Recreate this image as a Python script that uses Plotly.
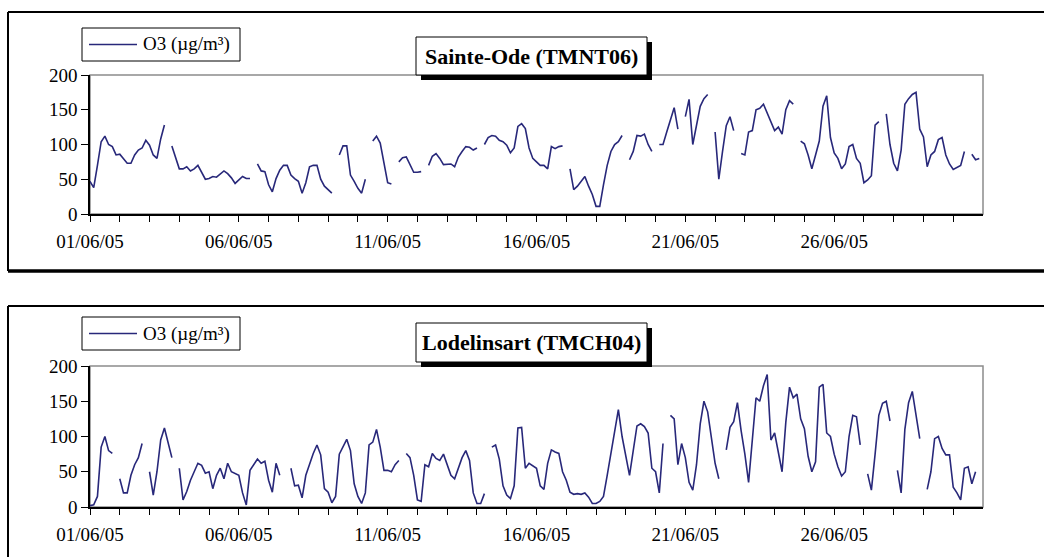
import plotly.graph_objects as go
import pandas as pd

# ---------------- data (3-hourly readings, June 2005) ----------------
start_date = "2005-06-01"
step = "3h"
tick_dates = ["2005-06-01", "2005-06-06", "2005-06-11", "2005-06-16", "2005-06-21", "2005-06-26"]
tick_labels = ["01/06/05", "06/06/05", "11/06/05", "16/06/05", "21/06/05", "26/06/05"]
y_ticks = [0, 50, 100, 150, 200]
series_name = "O3 (µg/m³)"
titles = ["Sainte-Ode (TMNT06)", "Lodelinsart (TMCH04)"]
N = None

sainte_ode = [
    47, 38, 70, 104, 112, 100, 97, 85,      # 01/06
    86, 80, 73, 73, 85, 92, 95, 106,        # 02/06
    99, 85, 80, 108, 128, N, 98, 80,        # 03/06
    65, 65, 68, 62, 65, 70, 60, 50,         # 04/06
    51, 54, 53, 58, 62, 58, 52, 44,         # 05/06
    49, 54, 51, 51, N, 72, 62, 61,          # 06/06
    42, 32, 51, 63, 70, 70, 56, 51,         # 07/06
    47, 30, 45, 68, 70, 70, 50, 40,         # 08/06
    35, 30, N, 85, 98, 98, 56, 47,          # 09/06
    37, 30, 50, N, 105, 112, 102, 75,       # 10/06
    45, 43, N, 75, 81, 82, 71, 60,          # 11/06
    60, 61, N, 70, 83, 87, 80, 71,          # 12/06
    72, 72, 68, 82, 90, 97, 96, 92,         # 13/06
    95, N, 100, 110, 113, 112, 106, 104,    # 14/06
    99, 88, 95, 126, 130, 123, 95, 80,      # 15/06
    75, 70, 70, 65, 97, 94, 97, 98,         # 16/06
    N, 65, 35, 40, 47, 54, 40, 28,          # 17/06
    11, 11, 42, 70, 90, 100, 104, 113,      # 18/06
    N, 78, 90, 113, 112, 115, 100, 90,      # 19/06
    N, 100, 100, 118, 137, 153, 122, N,     # 20/06
    140, 165, 100, 130, 155, 166, 172, N,   # 21/06
    118, 50, 90, 127, 140, 120, N, 87,      # 22/06
    85, 118, 120, 150, 152, 158, 146, 133,  # 23/06
    120, 125, 115, 150, 163, 158, N, 105,   # 24/06
    101, 85, 65, 85, 105, 155, 170, 110,    # 25/06
    88, 80, 65, 72, 97, 100, 80, 73,        # 26/06
    45, 49, 55, 128, 133, N, 144, 100,      # 27/06
    73, 62, 92, 158, 166, 172, 175, 122,    # 28/06
    111, 68, 85, 90, 107, 110, 85, 72,      # 29/06
    64, 67, 70, 90, N, 86, 78, 80,          # 30/06
]

lodelinsart = [
    2, 3, 15, 85, 100, 80, 76, N,           # 01/06
    40, 20, 20, 45, 60, 70, 90, N,          # 02/06
    50, 17, 50, 95, 112, 92, 70, N,         # 03/06
    55, 10, 22, 38, 50, 62, 59, 48,         # 04/06
    50, 26, 45, 55, 40, 62, 50, 48,         # 05/06
    45, 20, 3, 52, 60, 68, 62, 65,          # 06/06
    38, 21, 62, 45, N, N, 55, 30,           # 07/06
    31, 13, 45, 62, 76, 88, 74, 26,         # 08/06
    21, 6, 15, 75, 86, 96, 80, 33,          # 09/06
    15, 5, 20, 88, 92, 110, 85, 52,         # 10/06
    52, 50, 60, 66, N, 76, 70, 45,          # 11/06
    10, 8, 60, 57, 76, 69, 66, 75,          # 12/06
    60, 45, 40, 55, 70, 80, 66, 20,         # 13/06
    5, 5, 19, N, 85, 88, 68, 30,            # 14/06
    17, 12, 30, 112, 113, 55, 62, 58,       # 15/06
    55, 30, 25, 62, 81, 78, 76, 50,         # 16/06
    38, 21, 18, 19, 18, 20, 14, 5,          # 17/06
    5, 8, 15, 45, 75, 111, 138, 100,        # 18/06
    70, 45, 80, 115, 118, 114, 105, 55,     # 19/06
    50, 20, 90, N, 130, 125, 60, 90,        # 20/06
    70, 35, 24, 60, 118, 150, 135, 100,     # 21/06
    62, 40, N, 81, 113, 121, 148, 108,      # 22/06
    75, 35, 90, 155, 150, 172, 188, 95,     # 23/06
    105, 80, 50, 120, 170, 155, 160, 125,   # 24/06
    111, 72, 50, 64, 170, 174, 105, 100,    # 25/06
    75, 57, 44, 50, 100, 130, 128, 88,      # 26/06
    N, 47, 24, 75, 130, 147, 150, 122,      # 27/06
    N, 52, 20, 110, 148, 164, 130, 97,      # 28/06
    N, 25, 50, 97, 100, 83, 74, 74,         # 29/06
    28, 20, 10, 55, 57, 33, 50, N,          # 30/06
]

# ---------------- layout helpers ----------------
W, H = 1044, 557
LINE_COLOR = "#28287a"
FONT = "Liberation Serif"


def fx(px):
    return px / W


def fy(py):
    return 1 - py / H


times = pd.date_range(start_date, periods=len(sainte_ode), freq=step)
day_ticks = list(pd.date_range(start_date, periods=30, freq="D"))

fig = go.Figure()

panels = [
    dict(data=sainte_ode, area=(90, 75, 983, 214), frame_top=12, frame_bot=271,
         leg=(82, 28, 240, 61), tit=(416, 37, 647, 75)),
    dict(data=lodelinsart, area=(90, 366, 983, 507), frame_top=306, frame_bot=600,
         leg=(82, 317, 240, 350), tit=(416, 323, 647, 362)),
]

shapes = []
annotations = []

for i, p in enumerate(panels):
    ax = "" if i == 0 else str(i + 1)
    l, t, r, b = p["area"]
    fig.add_trace(go.Scatter(
        x=times, y=p["data"], mode="lines", name=series_name,
        line=dict(color=LINE_COLOR, width=1.6), connectgaps=False,
        xaxis="x" + ax, yaxis="y" + ax, showlegend=False,
    ))
    fig.layout["xaxis" + ax] = dict(
        domain=[fx(l), fx(r)], anchor="y" + ax, type="date", automargin=False,
        range=["2005-06-01", "2005-07-01"],
        tickmode="array", tickvals=tick_dates, ticktext=tick_labels,
        ticks="outside", ticklen=6, tickwidth=1, tickcolor="black",
        minor=dict(tickmode="array", tickvals=day_ticks, ticks="outside",
                   ticklen=6, tickwidth=1, tickcolor="black"),
        showline=True, linecolor="black", linewidth=1.5,
        showgrid=False, zeroline=False, ticklabelstandoff=3,
        tickfont=dict(family=FONT, size=19, color="black"),
        fixedrange=True,
    )
    fig.layout["yaxis" + ax] = dict(
        domain=[fy(b), fy(t)], anchor="x" + ax, range=[0, 200], automargin=False,
        tickmode="array", tickvals=y_ticks,
        ticks="outside", ticklen=7, tickwidth=1, tickcolor="black",
        showline=True, linecolor="black", linewidth=1.5,
        showgrid=False, zeroline=False,
        tickfont=dict(family=FONT, size=19, color="black"),
        fixedrange=True,
    )
    # grey plot-area border (top & right)
    shapes.append(dict(type="rect", xref="paper", yref="paper",
                       x0=fx(l), x1=fx(r), y0=fy(b), y1=fy(t),
                       line=dict(color="#8c8c8c", width=1.5), layer="below"))
    # outer frame (thin left/top, thick bottom shadow)
    ft, fb = p["frame_top"], p["frame_bot"]
    shapes.append(dict(type="line", xref="paper", yref="paper",
                       x0=fx(8), x1=fx(8), y0=fy(fb), y1=fy(ft),
                       line=dict(color="black", width=2)))
    shapes.append(dict(type="line", xref="paper", yref="paper",
                       x0=fx(8), x1=fx(1044), y0=fy(ft), y1=fy(ft),
                       line=dict(color="black", width=2)))
    shapes.append(dict(type="line", xref="paper", yref="paper",
                       x0=fx(8), x1=fx(1044), y0=fy(fb), y1=fy(fb),
                       line=dict(color="black", width=3.5)))
    # legend box
    ll, lt, lr, lb = p["leg"]
    shapes.append(dict(type="rect", xref="paper", yref="paper",
                       x0=fx(ll), x1=fx(lr), y0=fy(lb), y1=fy(lt),
                       line=dict(color="black", width=1), fillcolor="white"))
    ym = (lt + lb) / 2
    shapes.append(dict(type="line", xref="paper", yref="paper",
                       x0=fx(ll + 7), x1=fx(ll + 55), y0=fy(ym), y1=fy(ym),
                       line=dict(color=LINE_COLOR, width=1.6)))
    annotations.append(dict(xref="paper", yref="paper", x=fx(ll + 59), y=fy(ym),
                            xanchor="left", yanchor="middle", showarrow=False,
                            text=series_name,
                            font=dict(family=FONT, size=19, color="black")))
    # title box with shadow
    tl, tt, tr, tb = p["tit"]
    shapes.append(dict(type="rect", xref="paper", yref="paper",
                       x0=fx(tl + 5), x1=fx(tr + 5), y0=fy(tb + 5), y1=fy(tt + 5),
                       line=dict(color="black", width=0), fillcolor="black"))
    shapes.append(dict(type="rect", xref="paper", yref="paper",
                       x0=fx(tl), x1=fx(tr), y0=fy(tb), y1=fy(tt),
                       line=dict(color="black", width=1), fillcolor="white"))
    annotations.append(dict(xref="paper", yref="paper", x=fx((tl + tr) / 2),
                            y=fy((tt + tb) / 2), xanchor="center", yanchor="middle",
                            showarrow=False, text="<b>" + titles[i] + "</b>",
                            font=dict(family=FONT, size=22, color="black")))

fig.update_layout(
    width=W, height=H, margin=dict(l=0, r=0, t=0, b=0),
    paper_bgcolor="white", plot_bgcolor="white",
    shapes=shapes, annotations=annotations, showlegend=False,
)

fig.write_html("out.html", post_script="document.body.style.margin='0';",
               config={"displayModeBar": False})
